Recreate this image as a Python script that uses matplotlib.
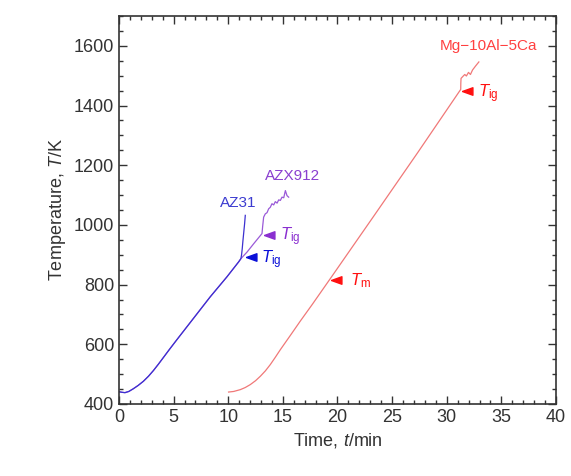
import numpy as np
import matplotlib
matplotlib.use('Agg')
import matplotlib.pyplot as plt
from matplotlib.ticker import MultipleLocator

plt.rcParams['font.family'] = ['Liberation Sans', 'DejaVu Sans']
plt.rcParams['mathtext.fontset'] = 'custom'
plt.rcParams['mathtext.rm'] = 'Liberation Sans'
plt.rcParams['mathtext.it'] = 'Liberation Sans:italic'

# shared heating part of AZ31 / AZX912 (time in min, temperature in K)
base_t = [0, 0.3, 0.55, 0.9, 1.31, 1.75, 2.23, 2.7, 3.15, 3.6, 4.07, 4.6, 5.29,
          6.82, 8.35, 9.88, 10.95, 11.16]
base_T = [441, 439, 438, 442, 451, 462, 476, 493, 512, 533, 556, 582, 615,
          687, 759, 826, 876, 887]

# AZ31 after ignition
az31_t = base_t + [11.22, 11.28, 11.34, 11.42, 11.5, 11.56]
az31_T = base_T + [900, 920, 945, 975, 1005, 1032]

# AZX912 after ignition
azx_t = base_t + [11.72, 12.33, 13.09, 13.15, 13.24, 13.39, 13.55, 13.70, 13.85,
                  14.00, 14.16, 14.31, 14.47, 14.62, 14.77, 14.92, 15.08, 15.23,
                  15.38, 15.53]
azx_T = base_T + [909, 937, 971, 995, 1026, 1037, 1041, 1054, 1059,
                  1071, 1067, 1078, 1073, 1084, 1082, 1093, 1091, 1115,
                  1098, 1093]

# Mg-10Al-5Ca curve
mg_t = [10.03, 10.5, 11.1, 11.55, 12.02, 12.5, 12.94, 13.4, 13.85, 14.3, 14.77,
        15.69, 16.6, 17.68, 19.36, 23.33, 27.3, 31.28,
        31.29, 31.31, 31.49, 31.65, 31.8, 31.99, 32.17, 32.36, 32.63, 32.94]
mg_T = [440, 442, 448, 455, 465, 478, 493, 511, 532, 556, 582,
        630, 678, 733, 821, 1030, 1240, 1454,
        1476, 1491, 1498, 1504, 1499, 1511, 1504, 1519, 1532, 1546]

# arrow tips and labels
arrow_t = [11.65, 13.24, 19.45, 31.43]
arrow_T = [893, 967, 817, 1448]
arrow_col = ['#0a10d8', '#8a2fd0', '#ff1010', '#ff1010']
arrow_lab = [r'$T_{\rm ig}$', r'$T_{\rm ig}$', r'$T_{\rm m}$', r'$T_{\rm ig}$']
lab_t = [13.0, 14.7, 21.1, 32.9]
lab_T = [885, 962, 812, 1440]

fig = plt.figure(figsize=(5.71, 4.76), dpi=100)
ax = fig.add_axes([0.2084, 0.1513, 0.7653, 0.8151])

ax.plot(azx_t, azx_T, color='#9a5ad8', lw=0.9)
ax.plot(az31_t, az31_T, color='#3c30d0', lw=0.9)
ax.plot(mg_t, mg_T, color='#f07878', lw=0.9)

tri = [(0, 0), (1, 0.36), (1, -0.36), (0, 0)]
for t, T, c, s, lt, lT in zip(arrow_t, arrow_T, arrow_col, arrow_lab, lab_t, lab_T):
    ax.plot([t], [T], marker=tri, markersize=15, color=c, linestyle='none')
    ax.text(lt, lT, s, color=c, fontsize=12, va='center', ha='left')

ax.text(10.95, 1073, 'AZ31', color='#3c3cd0', fontsize=11, ha='center', va='center')
ax.text(15.9, 1165, 'AZX912', color='#8a3fd0', fontsize=11, ha='center', va='center')
ax.text(33.8, 1598, 'Mg\u221210Al\u22125Ca', color='#ff4040', fontsize=11, ha='center', va='center')

ax.set_xlim(0, 40)
ax.set_ylim(400, 1700)
ax.xaxis.set_major_locator(MultipleLocator(5))
ax.xaxis.set_minor_locator(MultipleLocator(1))
ax.yaxis.set_major_locator(MultipleLocator(200))
ax.yaxis.set_minor_locator(MultipleLocator(50))
ax.tick_params(which='both', direction='in', top=True, right=True, labelsize=13,
               color='#333333', labelcolor='#333333', width=1)
ax.tick_params(which='major', length=6)
ax.tick_params(which='minor', length=3)
for sp in ax.spines.values():
    sp.set_color('#333333')
    sp.set_linewidth(1.2)

ax.set_xlabel(r'Time, $t$/min', fontsize=13, color='#333333')
ax.set_ylabel(r'Temperature, $T$/K', fontsize=13, color='#333333')

fig.savefig('out.png', dpi=100)
